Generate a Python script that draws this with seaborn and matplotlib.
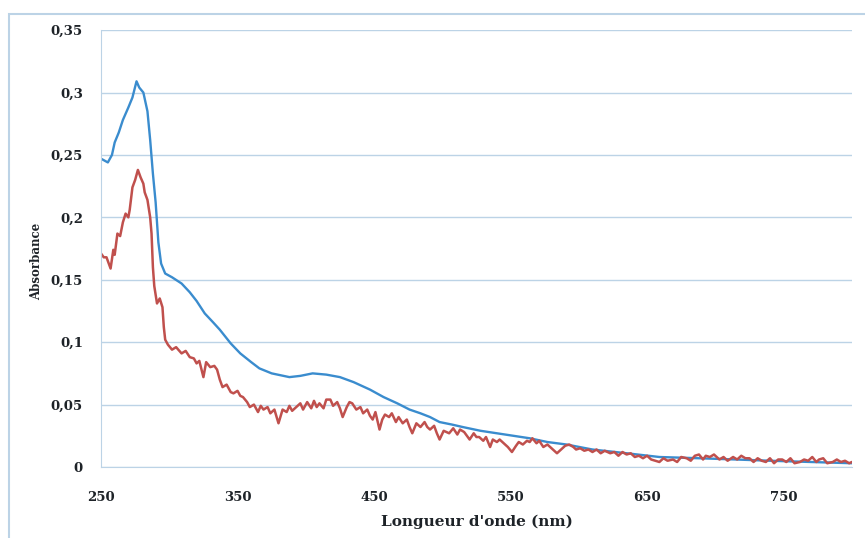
import seaborn as sns
import matplotlib.pyplot as plt
import matplotlib.patches as patches
import pandas as pd
import numpy as np

# Spectre bleu (longueur d'onde en nm, absorbance)
lam_bleu = [250, 255, 258, 260, 263, 266, 270, 273, 276, 278, 281, 284, 286, 288, 290,
            292, 294, 297, 302, 309, 315, 320, 326, 332, 337, 345, 352, 360, 366, 375,
            388, 396, 405, 415, 425, 435, 447, 457, 467, 476, 484, 491, 498, 507, 515,
            528, 540, 552, 564, 577, 591, 610, 635, 659, 688, 715, 740, 770, 800]
abs_bleu = [0.247, 0.244, 0.250, 0.260, 0.268, 0.278, 0.288, 0.296, 0.309, 0.304, 0.300,
            0.285, 0.262, 0.235, 0.212, 0.180, 0.163, 0.155, 0.152, 0.147, 0.140, 0.133,
            0.123, 0.116, 0.110, 0.099, 0.091, 0.084, 0.079, 0.075, 0.072, 0.073, 0.075,
            0.074, 0.072, 0.068, 0.062, 0.056, 0.051, 0.046, 0.043, 0.040, 0.036, 0.034,
            0.032, 0.029, 0.027, 0.025, 0.023, 0.020, 0.018, 0.014, 0.011, 0.008, 0.007,
            0.006, 0.005, 0.004, 0.003]

# Spectre rouge (bruité)
lam_rouge = [250, 252, 254, 256, 257, 259, 260, 262, 264, 266, 268, 270, 271, 273, 275,
             277, 279, 281, 282, 284, 286, 287, 288, 289, 291, 293, 295, 296, 297, 299,
             302, 305, 309, 312, 315, 318, 320, 322, 325, 327, 330, 333, 335, 337, 339,
             342, 345, 347, 350, 352, 354, 357, 359, 362, 365, 367, 369, 372, 374, 377,
             380, 383, 386, 388, 390, 393, 396, 398, 401, 404, 406, 408, 410, 413, 415,
             418, 420, 423, 425, 427, 430, 432, 434, 437, 440, 442, 445, 447, 449, 451,
             454, 456, 458, 461, 463, 466, 468, 471, 474, 476, 478, 481, 484, 487, 489,
             491, 494, 496, 498, 501, 505, 508, 511, 513, 516, 518, 520, 523, 525, 527,
             530, 532, 535, 537, 540, 542, 545, 548, 551, 554, 556, 559, 562, 564, 566,
             569, 571, 574, 577, 580, 582, 584, 587, 590, 593, 596, 598, 601, 604, 607,
             610, 613, 616, 619, 623, 626, 629, 632, 635, 638, 641, 644, 647, 650, 653,
             656, 659, 662, 665, 669, 672, 675, 679, 682, 685, 688, 691, 693, 696, 699,
             703, 706, 709, 713, 716, 719, 722, 725, 728, 731, 734, 737, 740, 743, 746,
             749, 752, 755, 758, 762, 765, 768, 771, 774, 776, 779, 782, 786, 789, 792,
             795, 798, 800]
abs_rouge = [0.171, 0.168, 0.168, 0.162, 0.159, 0.174, 0.170, 0.187, 0.185, 0.196, 0.203,
             0.200, 0.206, 0.224, 0.230, 0.238, 0.232, 0.227, 0.220, 0.214, 0.200, 0.187,
             0.160, 0.145, 0.131, 0.135, 0.128, 0.112, 0.102, 0.098, 0.094, 0.096, 0.091,
             0.093, 0.088, 0.087, 0.083, 0.085, 0.072, 0.084, 0.080, 0.081, 0.078, 0.070,
             0.064, 0.066, 0.060, 0.059, 0.061, 0.057, 0.056, 0.052, 0.048, 0.050, 0.044,
             0.049, 0.046, 0.048, 0.043, 0.046, 0.035, 0.046, 0.044, 0.049, 0.045, 0.048,
             0.051, 0.046, 0.052, 0.047, 0.053, 0.048, 0.051, 0.047, 0.054, 0.054, 0.049,
             0.052, 0.047, 0.040, 0.048, 0.052, 0.051, 0.046, 0.048, 0.043, 0.046, 0.041,
             0.038, 0.044, 0.030, 0.038, 0.042, 0.040, 0.043, 0.036, 0.040, 0.035, 0.038,
             0.032, 0.027, 0.035, 0.032, 0.036, 0.032, 0.030, 0.033, 0.027, 0.022, 0.029,
             0.027, 0.031, 0.026, 0.030, 0.028, 0.025, 0.022, 0.027, 0.024, 0.024, 0.021,
             0.024, 0.016, 0.022, 0.020, 0.022, 0.019, 0.016, 0.012, 0.017, 0.020, 0.018,
             0.021, 0.020, 0.023, 0.019, 0.021, 0.016, 0.018, 0.015, 0.013, 0.011, 0.014,
             0.017, 0.018, 0.016, 0.014, 0.015, 0.013, 0.014, 0.012, 0.014, 0.011, 0.013,
             0.011, 0.012, 0.009, 0.012, 0.010, 0.011, 0.008, 0.009, 0.007, 0.009, 0.006,
             0.005, 0.004, 0.007, 0.005, 0.006, 0.004, 0.008, 0.007, 0.005, 0.009, 0.010,
             0.006, 0.009, 0.008, 0.010, 0.006, 0.008, 0.005, 0.008, 0.006, 0.009, 0.007,
             0.007, 0.004, 0.007, 0.005, 0.004, 0.007, 0.003, 0.006, 0.006, 0.004, 0.007,
             0.003, 0.004, 0.006, 0.005, 0.008, 0.004, 0.006, 0.007, 0.003, 0.004, 0.006,
             0.004, 0.005, 0.003, 0.004]

xticks = [250, 350, 450, 550, 650, 750]
yticks = [0, 0.05, 0.1, 0.15, 0.2, 0.25, 0.3, 0.35]
ytick_labels = ['0', '0,05', '0,1', '0,15', '0,2', '0,25', '0,3', '0,35']

df_bleu = pd.DataFrame({'lambda': lam_bleu, 'abs': abs_bleu})
df_rouge = pd.DataFrame({'lambda': lam_rouge, 'abs': abs_rouge})

sns.set_style('white')
plt.rcParams['font.family'] = ['DejaVu Serif']

bord = '#bcd3e6'
texte = '#1e2328'

fig = plt.figure(figsize=(8.65, 5.38), dpi=100)
# cadre du graphique (style Excel)
fig.patches.append(patches.Rectangle((0.0104, -0.05), 1.0, 1.024, transform=fig.transFigure,
                                     fill=False, edgecolor=bord, linewidth=1.5))
ax = fig.add_axes([0.1168, 0.132, 0.868, 0.812])

sns.lineplot(data=df_bleu, x='lambda', y='abs', color='#3a8cce', linewidth=1.7, ax=ax)
sns.lineplot(data=df_rouge, x='lambda', y='abs', color='#c0504d', linewidth=1.8, ax=ax)

ax.set_xlim(250, 800)
ax.set_ylim(0, 0.35)
ax.set_xticks(xticks)
ax.set_xticklabels([str(t) for t in xticks])
ax.set_yticks(yticks)
ax.set_yticklabels(ytick_labels)
ax.yaxis.grid(True, color=bord, linewidth=1.0)
ax.set_axisbelow(True)

sns.despine(ax=ax, top=True, right=True)
ax.spines['left'].set_color(bord)
ax.spines['bottom'].set_color(bord)
ax.tick_params(axis='x', length=4, color=bord, pad=13, labelsize=9.5, labelcolor=texte)
ax.tick_params(axis='y', length=0, pad=13, labelsize=9.5, labelcolor=texte)
for lab in ax.get_xticklabels() + ax.get_yticklabels():
    lab.set_fontweight('bold')

ax.set_xlabel("Longueur d'onde (nm)", fontsize=11, fontweight='bold', color=texte, labelpad=8)
ax.set_ylabel('Absorbance', fontsize=8.5, fontweight='bold', color=texte)
ax.yaxis.set_label_coords(-0.077, 0.47)

fig.savefig('out.png', dpi=100)
